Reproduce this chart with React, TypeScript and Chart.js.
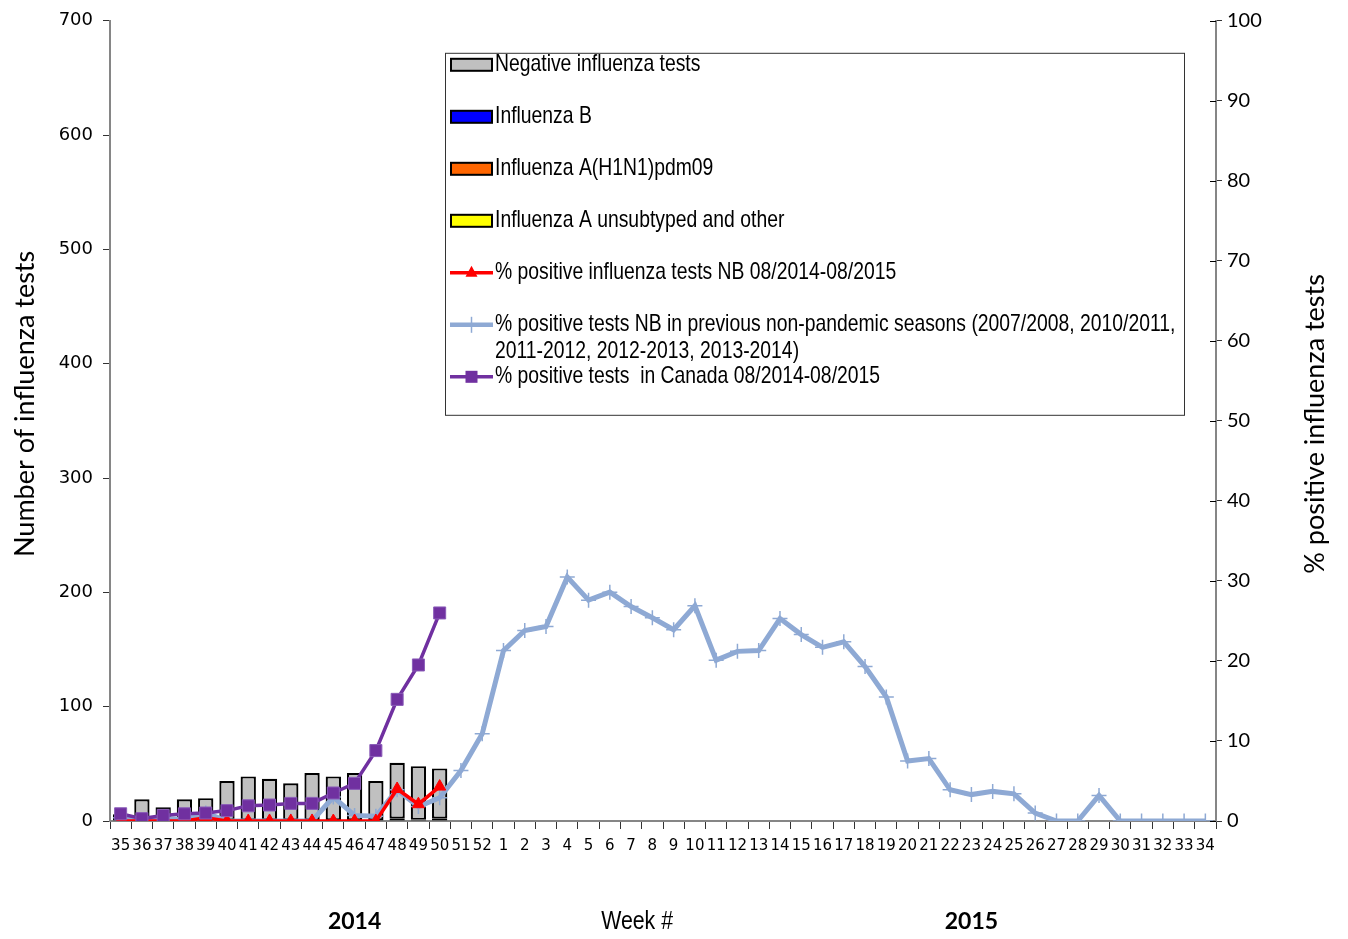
import React, { useEffect, useRef } from 'react';
import { Chart, registerables } from 'chart.js';
Chart.register(...registerables);

const weeks = ['35','36','37','38','39','40','41','42','43','44','45','46','47','48','49','50','51','52',
  '1','2','3','4','5','6','7','8','9','10','11','12','13','14','15','16','17','18','19','20','21','22','23','24','25','26','27','28','29','30','31','32','33','34'];

const negativeTests = [6,19,12,19,20,35,39,37,33,42,39,42,35,49,47,44];
const influenzaB: (number | null)[] = [];
const h1n1: (number | null)[] = [];
const aUnsubtyped = [null,null,null,null,null,null,null,null,null,null,null,null,null,2,1,2];

const pctPositiveNB = [0,0,0,0,0.4,0,0,0,0,0,0,0,0,4.0,2.1,4.3];
const pctPrevSeasons = [0.4,0.1,0.3,0.2,1.0,0,0,0,0,0,3.0,0.7,0.6,3.9,1.8,2.9,6.3,10.9,
  21.3,23.8,24.3,30.5,27.6,28.6,26.8,25.4,23.9,26.9,20.1,21.2,21.3,25.3,23.3,21.7,22.4,19.3,15.5,7.5,7.8,3.9,3.3,3.7,3.4,1.0,0,0,3.2,0,0,0,0,0];
const pctCanada = [0.9,0.3,0.7,0.9,1.0,1.3,1.9,2.0,2.2,2.2,3.5,4.7,8.8,15.2,19.5,26.0];

const leftTitle = 'Number of influenza tests';
const rightTitle = '% positive influenza tests';
const xTitle = 'Week #';
const yearLabels = [{ text: '2014', week: '46' }, { text: '2015', week: '23' }];

const NARROW = '"DejaVu Sans", sans-serif';
const COND = 'condensed';
const ARIAL = '"Liberation Sans", Arial, sans-serif';
const REG = 'Lato, "Open Sans", sans-serif';

const C_NEG = '#C0C0C0', C_B = '#0000FF', C_H1 = '#FF6600', C_UNS = '#FFFF00';
const C_RED = '#FF0000', C_BLUE = '#8EA9D4', C_PURPLE = '#7030A0';

const legendItems = [
  { kind: 'bar', color: C_NEG, lines: ['Negative influenza tests'] },
  { kind: 'bar', color: C_B, lines: ['Influenza B'] },
  { kind: 'bar', color: C_H1, lines: ['Influenza A(H1N1)pdm09'] },
  { kind: 'bar', color: C_UNS, lines: ['Influenza A unsubtyped and other'] },
  { kind: 'triangle', color: C_RED, lines: ['% positive influenza tests NB 08/2014-08/2015'] },
  { kind: 'cross', color: C_BLUE, lines: ['% positive tests NB in previous non-pandemic seasons (2007/2008, 2010/2011,', '2011-2012, 2012-2013, 2013-2014)'] },
  { kind: 'rect', color: C_PURPLE, lines: ['% positive tests  in Canada 08/2014-08/2015'] },
];

function narrowText(ctx: CanvasRenderingContext2D, text: string, x: number, y: number, size: number, align: CanvasTextAlign) {
  ctx.save();
  ctx.translate(x, y);
  ctx.scale(0.82, 1);
  ctx.font = `${size}px ${ARIAL}`;
  ctx.textAlign = align;
  ctx.textBaseline = 'middle';
  ctx.fillText(text, 0, 0);
  ctx.restore();
}

const overlay = {
  id: 'overlay',
  afterDraw(chart: any) {
    const ctx = chart.ctx as CanvasRenderingContext2D;
    const { left, right, top, bottom } = chart.chartArea;
    const xs = chart.scales.x, y2 = chart.scales.y2;
    ctx.save();
    ctx.strokeStyle = '#000';
    ctx.lineWidth = 1;
    y2.ticks.forEach((_t: any, i: number) => {
      const py = Math.round(y2.getPixelForTick(i)) + 0.5;
      ctx.beginPath(); ctx.moveTo(right - 6, py); ctx.lineTo(right, py); ctx.stroke();
    });
    ctx.fillStyle = '#000';
    ctx.textAlign = 'center';
    ctx.textBaseline = 'middle';
    ctx.font = `27px ${REG}`;
    ctx.save(); ctx.translate(left - 85, (top + bottom) / 2 - 17); ctx.rotate(-Math.PI / 2); ctx.fillText(leftTitle, 0, 0); ctx.restore();
    ctx.save(); ctx.translate(right + 99, (top + bottom) / 2 + 3); ctx.rotate(-Math.PI / 2); ctx.fillText(rightTitle, 0, 0); ctx.restore();
    narrowText(ctx, xTitle, xs.getPixelForValue(weeks.indexOf('7')) + 6, bottom + 101, 26, 'center');
    ctx.font = `bold 23px ${REG}`;
    ctx.textAlign = 'center';
    yearLabels.forEach((yl) => ctx.fillText(yl.text, xs.getPixelForValue(weeks.indexOf(yl.week)), bottom + 101));
    const lx = left + 335, ly = top + 32, lw = 739, lh = 362;
    ctx.fillStyle = '#fff';
    ctx.fillRect(lx, ly, lw, lh);
    ctx.strokeStyle = '#333';
    ctx.lineWidth = 1;
    ctx.strokeRect(lx + 0.5, ly + 0.5, lw, lh);
    let cy = ly + 12;
    legendItems.forEach((it) => {
      const sx = lx + 6, sw = 41;
      if (it.kind === 'bar') {
        ctx.fillStyle = it.color;
        ctx.fillRect(sx, cy - 6, sw, 12);
        ctx.strokeStyle = '#000'; ctx.lineWidth = 2;
        ctx.strokeRect(sx, cy - 6, sw, 12);
      } else {
        ctx.strokeStyle = it.color; ctx.lineWidth = it.kind === 'cross' ? 4.5 : 3.5;
        ctx.beginPath(); ctx.moveTo(sx - 1, cy); ctx.lineTo(sx + sw + 1, cy); ctx.stroke();
        const mx = sx + sw / 2;
        ctx.fillStyle = it.color;
        if (it.kind === 'triangle') {
          ctx.beginPath(); ctx.moveTo(mx, cy - 7); ctx.lineTo(mx + 6, cy + 4); ctx.lineTo(mx - 6, cy + 4); ctx.closePath(); ctx.fill();
        } else if (it.kind === 'rect') {
          ctx.fillRect(mx - 6, cy - 6, 12, 12);
        } else {
          ctx.lineWidth = 1.5;
          ctx.beginPath(); ctx.moveTo(mx, cy - 8); ctx.lineTo(mx, cy + 8); ctx.stroke();
        }
      }
      ctx.fillStyle = '#000';
      it.lines.forEach((t, i) => narrowText(ctx, t, lx + 50, cy + i * 27, 23.6, 'left'));
      cy += 52;
    });
    ctx.restore();
  },
};

export default function App() {
  const ref = useRef<HTMLCanvasElement>(null);
  useEffect(() => {
    const barCommon = { borderColor: '#000', borderWidth: 2.2, borderSkipped: false as const, categoryPercentage: 1, barPercentage: 0.72, yAxisID: 'y', stack: 's' };
    const chart = new Chart(ref.current!, {
      type: 'bar',
      data: {
        labels: weeks,
        datasets: [
          { type: 'line', label: 'canada', data: pctCanada, yAxisID: 'y2', borderColor: C_PURPLE, backgroundColor: C_PURPLE, borderWidth: 3.5, pointStyle: 'rect', pointRadius: 8.5, pointBorderWidth: 1, pointBackgroundColor: C_PURPLE, pointBorderColor: '#8a5cb8', order: 0, tension: 0 } as any,
          { type: 'line', label: 'nb', data: pctPositiveNB, yAxisID: 'y2', borderColor: C_RED, backgroundColor: C_RED, borderWidth: 3.5, pointStyle: 'triangle', pointRadius: 7, pointBorderWidth: 1, order: 1, tension: 0 } as any,
          { type: 'line', label: 'prev', data: pctPrevSeasons, yAxisID: 'y2', borderColor: C_BLUE, backgroundColor: C_BLUE, borderWidth: 5, pointStyle: 'cross', pointRadius: 7.5, pointBorderWidth: 1.5, order: 2, tension: 0 } as any,
          { ...barCommon, label: 'uns', data: aUnsubtyped, backgroundColor: C_UNS, order: 3 } as any,
          { ...barCommon, label: 'h1n1', data: h1n1, backgroundColor: C_H1, order: 4 } as any,
          { ...barCommon, label: 'b', data: influenzaB, backgroundColor: C_B, order: 5 } as any,
          { ...barCommon, label: 'neg', data: negativeTests, backgroundColor: C_NEG, order: 6 } as any,
        ],
      },
      options: {
        responsive: true,
        maintainAspectRatio: false,
        animation: false,
        layout: { padding: { top: 17, left: 0, right: 0, bottom: 0 } },
        plugins: { legend: { display: false }, tooltip: { enabled: false } },
        scales: {
          x: {
            type: 'category',
            stacked: true,
            offset: true,
            grid: { display: true, drawOnChartArea: false, offset: true, tickLength: 8, color: '#333', lineWidth: 1 },
            border: { color: '#868686', width: 2 },
            ticks: { autoSkip: false, maxRotation: 0, minRotation: 0, color: '#000', font: { family: NARROW, size: 15, style: COND as any }, padding: 8 },
            afterFit: (s: any) => { s.height = 118; },
          },
          y: {
            position: 'left',
            stacked: true,
            min: 0, max: 700,
            grid: { drawOnChartArea: false, tickLength: 7, color: '#333' },
            border: { color: '#868686', width: 2 },
            ticks: { stepSize: 100, color: '#000', font: { family: NARROW, size: 18, style: COND as any }, padding: 10 },
            afterFit: (s: any) => { s.width = 110; },
          },
          y2: {
            position: 'right',
            min: 0, max: 100,
            grid: { drawOnChartArea: false, tickLength: 6, color: '#333' },
            border: { color: '#868686', width: 2 },
            ticks: { stepSize: 10, color: '#000', font: { family: REG, size: 20 }, padding: 5 },
            afterFit: (s: any) => { s.width = 132; },
          },
        },
      },
      plugins: [overlay],
    });
    return () => chart.destroy();
  }, []);
  return (
    <div style={{ position: 'absolute', left: 0, top: 0, width: 1348, height: 939, background: '#fff' }}>
      <canvas ref={ref} />
    </div>
  );
}
